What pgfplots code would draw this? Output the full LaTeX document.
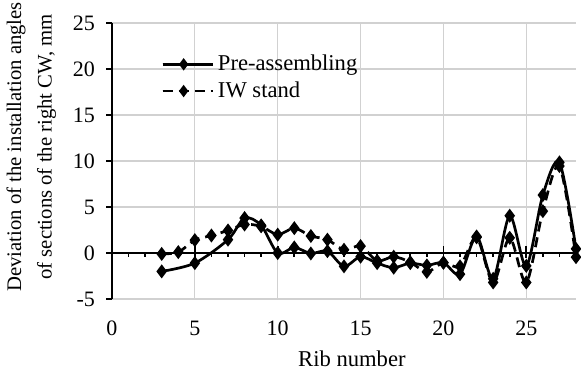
\documentclass[border=0pt]{standalone}
\usepackage{pgfplots}
\pgfplotsset{compat=1.18}
\usepackage{fontspec}
\setmainfont{Liberation Serif}

\pgfplotstableread{
x y
3 -2.0
5 -1.1
7 1.45
8 3.8
9 3.0
10 0.0
11 0.6
12 -0.05
13 0.2
14 -1.45
15 -0.4
16 -1.1
17 -1.6
18 -1.1
19 -1.35
20 -1.05
21 -2.3
22 1.8
23 -2.8
24 4.05
25 -1.4
26 6.3
27 9.85
28 0.45
}\preassembling

\pgfplotstableread{
x y
3 -0.1
4 0.1
5 1.4
6 1.9
7 2.45
8 3.1
9 2.9
10 2.0
11 2.7
12 1.85
13 1.45
14 0.35
15 0.75
16 -0.85
17 -0.4
18 -1.0
19 -2.05
20 -1.05
21 -1.45
22 1.7
23 -3.2
24 1.65
25 -3.2
26 4.55
27 9.45
28 -0.45
}\iwstand

\begin{document}
\begin{tikzpicture}
\useasboundingbox (-56pt,-35.5pt) rectangle (234.5pt,149.5pt);
\begin{axis}[
  scale only axis, width=232pt, height=138pt,
  xmin=0, xmax=28, ymin=-5, ymax=25,
  xtick={0,5,...,25}, ytick={-5,0,...,25},
  axis y line*=left, axis x line*=bottom,
  x axis line style={draw=none},
  y axis line style={line width=1.3pt, black, -},
  xtick style={draw=none},
  ytick style={line width=0.8pt, black},
  tick align=outside, major tick length=3pt,
  grid=major, major grid style={black!18, line width=0.6pt},
  tick label style={font=\fontsize{11}{13}\selectfont},
  /pgf/number format/assume math mode=true,
  xticklabel style={anchor=center, yshift=-11.5pt},
  yticklabel style={anchor=east, xshift=-2pt},
  xlabel={Rib number},
  xlabel style={at={(axis description cs:0.517,0)}, anchor=center, yshift=-30pt, font=\fontsize{11.3}{13}\selectfont},
  ylabel={Deviation of the installation angles\\of sections of the right CW, mm},
  ylabel style={at={(axis description cs:-0.105,0.551)}, anchor=south, rotate=0, align=center, font=\fontsize{10.35}{15.3}\selectfont},
  legend style={at={(axis cs:2.95,22.0)}, anchor=north west, draw=none, fill=none,
    font=\fontsize{11.3}{13}\selectfont, inner sep=0pt, row sep=0pt},
  legend cell align=left,
]
\draw[line width=1.3pt] (axis cs:0,0) -- (axis cs:28,0);
\pgfplotsinvokeforeach{1,...,27}{\draw[line width=0.8pt] (axis cs:#1,0) -- ([yshift=-2.2pt]axis cs:#1,0);}
\pgfplotsinvokeforeach{5,10,...,25}{\draw[line width=0.8pt] ([yshift=-2.5pt]axis cs:#1,0) -- ([yshift=3.5pt]axis cs:#1,0);}
\addplot[black, line width=1.35pt, smooth, tension=0.5, mark=diamond*, mark size=2.4pt, mark options={solid},
  legend image code/.code={%
    \draw[black, line width=1.35pt] (0pt,0pt) -- (21pt,0pt);
    \path[black, mark=diamond*, mark size=2pt] plot coordinates {(10.5pt,0pt)};
    \path (0pt,0pt) -- (25pt,0pt);}] table[x=x, y=y] {\preassembling};
\addlegendentry{Pre-assembling}
\addplot[black, line width=1.35pt, smooth, tension=0.5, dash pattern=on 5pt off 3pt, mark=diamond*, mark size=2.4pt, mark options={solid},
  legend image code/.code={%
    \draw[black, line width=1.35pt, dash pattern=on 3.6pt off 13.8pt] (0pt,0pt) -- (21pt,0pt);
    \path[black, mark=diamond*, mark size=2pt] plot coordinates {(10.5pt,0pt)};
    \path (0pt,0pt) -- (25pt,0pt);}] table[x=x, y=y] {\iwstand};
\addlegendentry{IW stand}
\end{axis}
\end{tikzpicture}
\end{document}
